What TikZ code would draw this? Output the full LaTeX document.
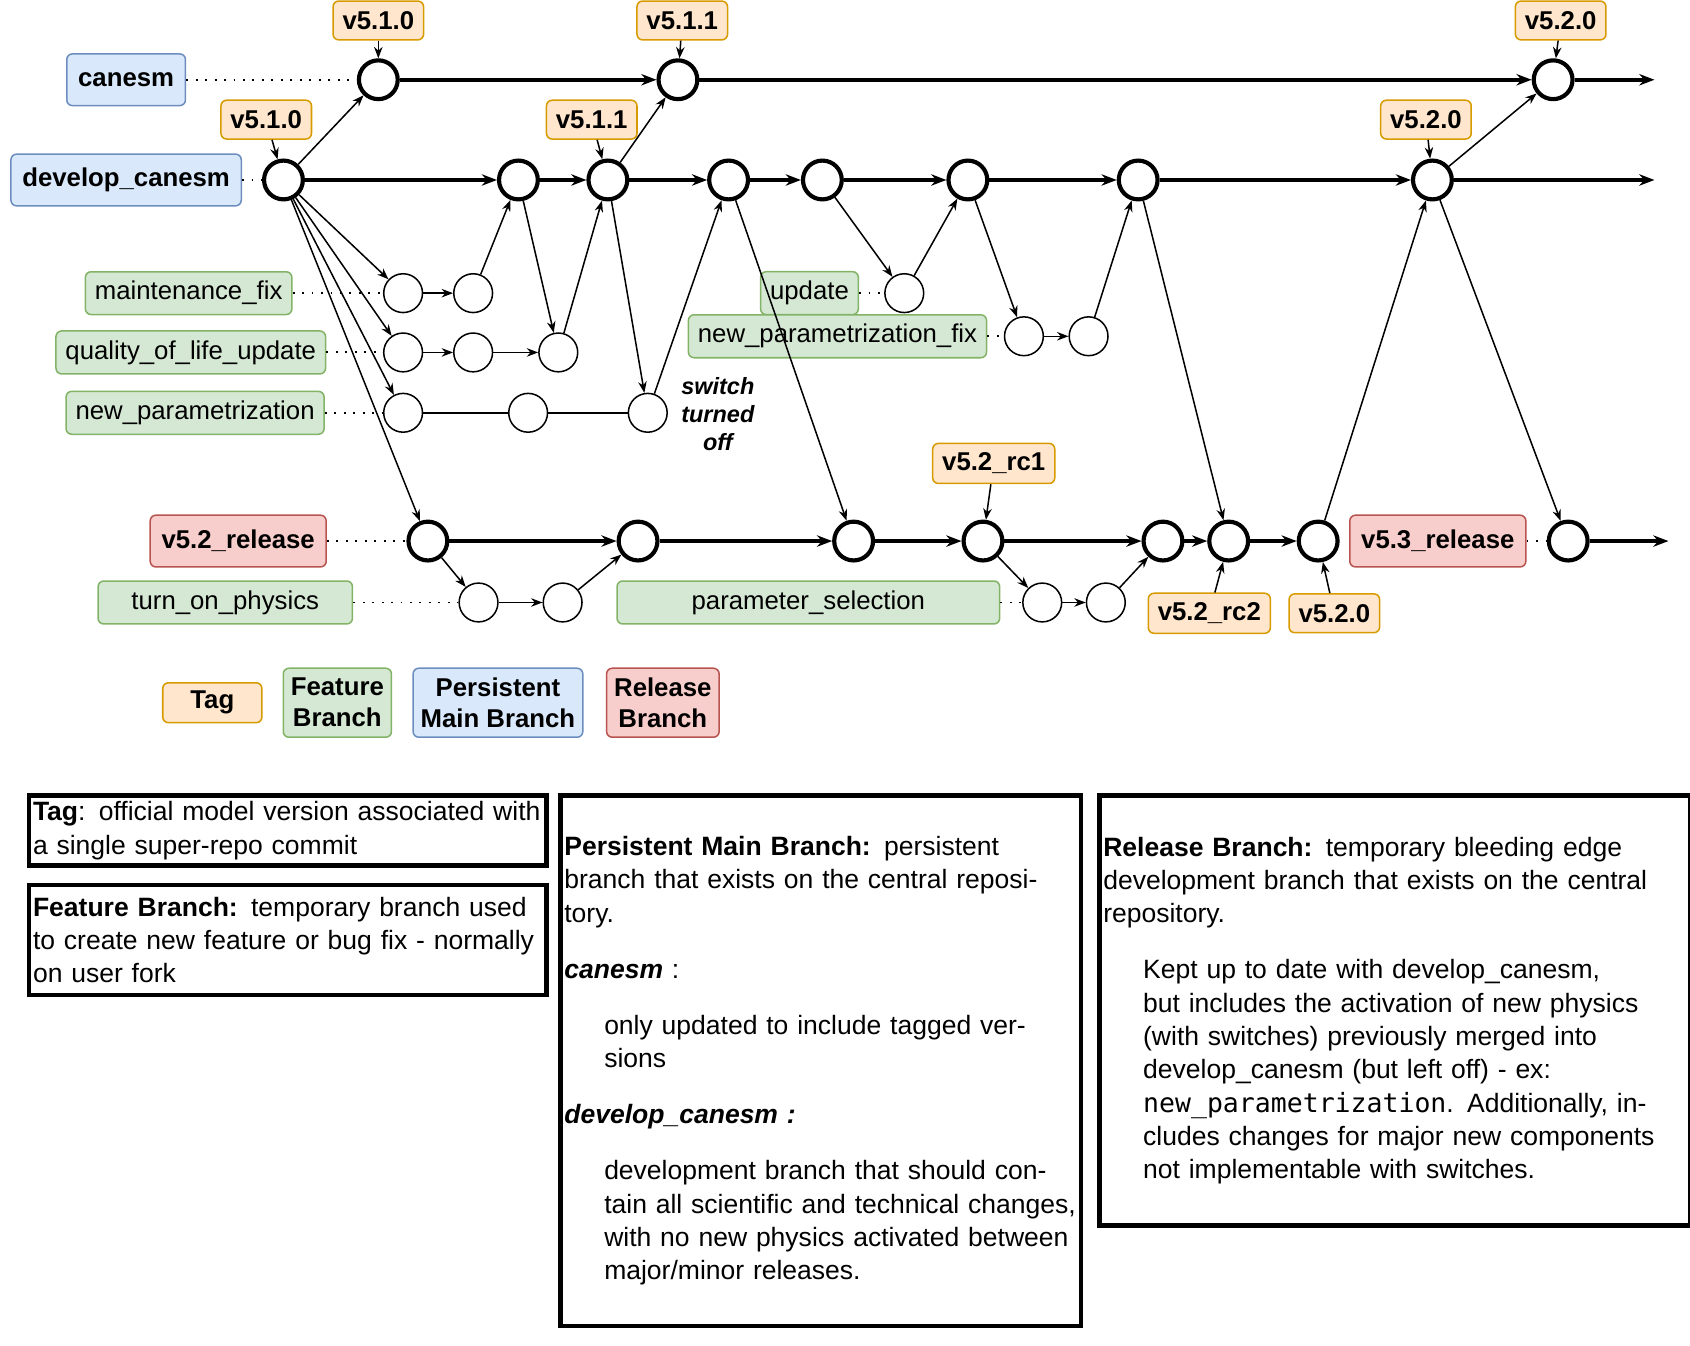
\documentclass[tikz,border=0pt]{standalone}
\usepackage{fontspec}
\setmainfont{Liberation Sans}
\setmonofont{DejaVu Sans Mono}
\usetikzlibrary{arrows.meta}

\definecolor{tagFill}{HTML}{FFE6CC}
\definecolor{tagDraw}{HTML}{D79B00}
\definecolor{featFill}{HTML}{D5E8D4}
\definecolor{featDraw}{HTML}{82B366}
\definecolor{mainFill}{HTML}{DAE8FC}
\definecolor{mainDraw}{HTML}{6C8EBF}
\definecolor{relFill}{HTML}{F8CECC}
\definecolor{relDraw}{HTML}{B85450}

\tikzset{
  every node/.style={font=\fontsize{6.8}{8.2}\selectfont},
  commit/.style={circle,draw,line width=1.1pt,minimum size=0.36cm,inner sep=0pt},
  fcommit/.style={circle,draw,line width=0.4pt,minimum size=0.36cm,inner sep=0pt},
  tag/.style={draw=tagDraw,fill=tagFill,rounded corners=1.5pt,font=\fontsize{6.8}{8.2}\selectfont\bfseries,minimum height=0.36cm,inner sep=2.5pt},
  feat/.style={draw=featDraw,fill=featFill,rounded corners=1.5pt,minimum height=0.36cm,inner sep=2.5pt},
  mainbr/.style={draw=mainDraw,fill=mainFill,rounded corners=1.5pt,font=\fontsize{6.8}{8.2}\selectfont\bfseries,minimum height=0.48cm,inner sep=3pt},
  relbr/.style={draw=relDraw,fill=relFill,rounded corners=1.5pt,font=\fontsize{6.8}{8.2}\selectfont\bfseries,minimum height=0.48cm,inner sep=3pt},
  legend/.style={rounded corners=1.5pt,align=center,font=\fontsize{6.8}{8.2}\selectfont\bfseries,inner sep=2pt},
  hist/.style={line width=1.1pt,-{Stealth[length=4pt]}},
  link/.style={line width=0.4pt,-{Stealth[length=3pt]}},
  tie/.style={dotted,line width=0.5pt},
  infobox/.style={draw,line width=1.2pt,anchor=north west,align=left,inner sep=1pt,font=\fontsize{7}{8.8}\selectfont}
}

\begin{document}
\begin{tikzpicture}
  \useasboundingbox (0,0) rectangle (15.68,-12.48);
  % canesm
  \node[mainbr] (canesm) at (1.17,-0.74) {canesm};
  \node[commit] (c1) at (3.51,-0.74) {};
  \node[commit] (c2) at (6.29,-0.74) {};
  \node[commit] (c3) at (14.41,-0.74) {};
  \coordinate (cEnd) at (15.35,-0.74);
  \draw[tie] (canesm) -- (c1);
  \draw[hist] (c1) -- (c2);
  \draw[hist] (c2) -- (c3);
  \draw[hist] (c3) -- (cEnd);
  \node[tag] (tc1) at (3.51,-0.19) {v5.1.0};
  \node[tag] (tc2) at (6.33,-0.19) {v5.1.1};
  \node[tag] (tc3) at (14.48,-0.19) {v5.2.0};
  \draw[link] (tc1) -- (c1);
  \draw[link] (tc2) -- (c2);
  \draw[link] (tc3) -- (c3);
  % develop_canesm
  \node[mainbr] (dev) at (1.17,-1.67) {develop\_canesm};
  \foreach \n/\x in {1/2.63,2/4.81,3/5.64,4/6.76,5/7.63,6/8.98,7/10.56,8/13.29}
    \node[commit] (d\n) at (\x,-1.67) {};
  \coordinate (dEnd) at (15.35,-1.67);
  \draw[tie] (dev) -- (d1);
  \foreach \a/\b in {d1/d2,d2/d3,d3/d4,d4/d5,d5/d6,d6/d7,d7/d8,d8/dEnd}
    \draw[hist] (\a) -- (\b);
  \node[tag] (td1) at (2.47,-1.11) {v5.1.0};
  \node[tag] (td3) at (5.49,-1.11) {v5.1.1};
  \node[tag] (td8) at (13.23,-1.11) {v5.2.0};
  \draw[link] (td1) -- (d1);
  \draw[link] (td3) -- (d3);
  \draw[link] (td8) -- (d8);
  \draw[link] (d1) -- (c1);
  \draw[link] (d3) -- (c2);
  \draw[link] (d8) -- (c3);
  % Feature branches
  \node[feat] (mf) at (1.75,-2.72) {maintenance\_fix};
  \node[fcommit] (m1) at (3.74,-2.72) {};
  \node[fcommit] (m2) at (4.39,-2.72) {};
  \node[feat] (ql) at (1.77,-3.27) {quality\_of\_life\_update};
  \node[fcommit] (q1) at (3.74,-3.27) {};
  \node[fcommit] (q2) at (4.39,-3.27) {};
  \node[fcommit] (q3) at (5.18,-3.27) {};
  \node[feat] (np) at (1.81,-3.83) {new\_parametrization};
  \node[fcommit] (n1) at (3.74,-3.83) {};
  \node[fcommit] (n2) at (4.90,-3.83) {};
  \node[fcommit] (n3) at (6.01,-3.83) {};
  \node[font=\fontsize{6.2}{7.4}\selectfont\bfseries\itshape,align=center] (sw) at (6.66,-3.84) {switch\\turned\\off};
  \draw[tie] (mf) -- (m1);
  \draw[tie] (ql) -- (q1);
  \draw[tie] (np) -- (n1);
  \draw[link] (m1) -- (m2);
  \draw[link] (q1) -- (q2);
  \draw[link] (q2) -- (q3);
  \draw (n1) -- (n2) -- (n3);
  \draw[link] (d1) -- (m1);
  \draw[link] (d1) -- (q1);
  \draw[link] (d1) -- (n1);
  \draw[link] (m2) -- (d2);
  \draw[link] (d2) -- (q3);
  \draw[link] (q3) -- (d3);
  \draw[link] (d3) -- (n3);
  \draw[link] (n3) -- (d4);
  \node[feat] (up) at (7.51,-2.72) {update};
  \node[fcommit] (u1) at (8.39,-2.72) {};
  \draw[tie] (up) -- (u1);
  \draw[link] (d5) -- (u1);
  \draw[link] (u1) -- (d6);
  \node[feat] (npf) at (7.77,-3.12) {new\_parametrization\_fix};
  \node[fcommit] (p1) at (9.50,-3.12) {};
  \node[fcommit] (p2) at (10.10,-3.12) {};
  \draw[tie] (npf) -- (p1);
  \draw[link] (d6) -- (p1);
  \draw[link] (p1) -- (p2);
  \draw[link] (p2) -- (d7);
  % v5.2_release
  \node[relbr] (rel) at (2.21,-5.02) {v5.2\_release};
  \foreach \n/\x in {1/3.97,2/5.92,3/7.92,4/9.12,5/10.79,6/11.40,7/12.23}
    \node[commit] (r\n) at (\x,-5.02) {};
  \node[relbr] (relb) at (13.34,-5.02) {v5.3\_release};
  \node[commit] (r8) at (14.55,-5.02) {};
  \coordinate (rEnd) at (15.48,-5.02);
  \draw[tie] (rel) -- (r1);
  \draw[tie] (relb) -- (r8);
  \foreach \a/\b in {r1/r2,r2/r3,r3/r4,r4/r5,r5/r6,r6/r7,r8/rEnd}
    \draw[hist] (\a) -- (\b);
  \draw[link] (d1) -- (r1);
  \draw[link] (d4) -- (r3);
  \draw[link] (d7) -- (r6);
  \draw[link] (r7) -- (d8);
  \draw[link] (d8) -- (r8);
  \node[feat,minimum width=2.36cm] (top) at (2.09,-5.59) {turn\_on\_physics};
  \node[fcommit] (t1) at (4.44,-5.59) {};
  \node[fcommit] (t2) at (5.22,-5.59) {};
  \draw[tie] (top) -- (t1);
  \draw[link] (r1) -- (t1);
  \draw[link] (t1) -- (t2);
  \draw[link] (t2) -- (r2);
  \node[feat,minimum width=3.55cm] (ps) at (7.50,-5.59) {parameter\_selection};
  \node[fcommit] (s1) at (9.67,-5.59) {};
  \node[fcommit] (s2) at (10.26,-5.59) {};
  \draw[tie] (ps) -- (s1);
  \draw[link] (r4) -- (s1);
  \draw[link] (s1) -- (s2);
  \draw[link] (s2) -- (r5);
  \node[tag] (tr4) at (9.22,-4.30) {v5.2\_rc1};
  \node[tag] (tr6) at (11.22,-5.69) {v5.2\_rc2};
  \node[tag] (tr7) at (12.38,-5.69) {v5.2.0};
  \draw[link] (tr4) -- (r4);
  \draw[link] (tr6) -- (r6);
  \draw[link] (tr7) -- (r7);
  % Legend
  \node[legend,draw=tagDraw,fill=tagFill,minimum width=0.92cm,minimum height=0.37cm] (lgTag) at (1.97,-6.52) {Tag};
  \node[legend,draw=featDraw,fill=featFill,minimum height=0.64cm] (lgFeat) at (3.13,-6.52) {Feature\\Branch};
  \node[legend,draw=mainDraw,fill=mainFill,minimum height=0.64cm] (lgMain) at (4.62,-6.52) {Persistent\\Main Branch};
  \node[legend,draw=relDraw,fill=relFill,minimum height=0.64cm] (lgRel) at (6.15,-6.52) {Release\\Branch};
  % Descriptions
  \node[infobox,text width=4.73cm,minimum height=0.65cm] (bTag) at (0.25,-7.36)
    {\textbf{Tag}: official model version associated with a single super-repo commit};
  \node[infobox,text width=4.73cm,minimum height=1.02cm] (bFeat) at (0.25,-8.19)
    {\textbf{Feature Branch:} temporary branch used to create new feature or bug fix - normally on user fork};
  \node[infobox,text width=4.76cm,minimum height=4.92cm,anchor=north west] (bMain) at (5.18,-7.36)
    {\textbf{Persistent Main Branch:} persistent branch that exists on the central repository.\par\medskip
     \textbf{\textit{canesm}} :\par\medskip
     {\leftskip=0.37cm only updated to include tagged versions\par}\medskip
     \textbf{\textit{develop\_canesm :}}\par\medskip
     {\leftskip=0.37cm development branch that should contain all scientific and technical changes, with no new physics activated between major/minor releases.\par}};
  \node[infobox,text width=5.41cm,minimum height=3.99cm] (bRel) at (10.18,-7.36)
    {\textbf{Release Branch:} temporary bleeding edge development branch that exists on the central repository.\par\medskip
     {\leftskip=0.37cm Kept up to date with develop\_canesm, but includes the activation of new physics (with switches) previously merged into develop\_canesm (but left off) - ex: \texttt{new\_parametrization}. Additionally, includes changes for major new components not implementable with switches.\par}};
\end{tikzpicture}
\end{document}
